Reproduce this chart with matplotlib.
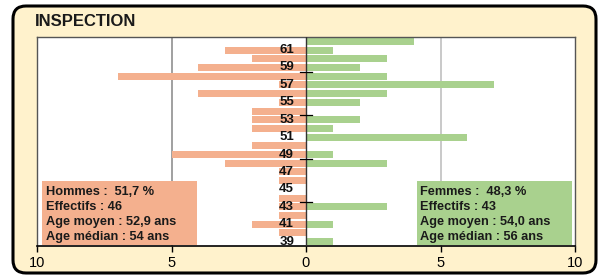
import matplotlib
matplotlib.use("Agg")
import matplotlib.pyplot as plt
from matplotlib.patches import FancyBboxPatch, Rectangle

plt.rcParams['font.family'] = ['Liberation Sans', 'DejaVu Sans']

title = "INSPECTION"
ages = list(range(39, 63))
hommes = [0, 1, 2, 1, 1, 1, 0, 1, 1, 3, 5, 2, 0, 2, 2, 2, 1, 4, 1, 7, 4, 2, 3, 0]
femmes = [1, 0, 1, 0, 3, 0, 0, 0, 0, 3, 1, 0, 6, 1, 2, 0, 2, 3, 7, 3, 2, 3, 1, 4]
age_labels = list(range(39, 62, 2))
xticks = [-10, -5, 0, 5, 10]
xtick_labels = ["10", "5", "0", "5", "10"]
sep_ticks = [43.5, 48.5, 53.5, 58.5]
hommes_text = ["Hommes :  51,7 %", "Effectifs : 46", "Age moyen : 52,9 ans", "Age médian : 54 ans"]
femmes_text = ["Femmes :  48,3 %", "Effectifs : 43", "Age moyen : 54,0 ans", "Age médian : 56 ans"]

C_H = '#F4B08E'
C_F = '#A9D18E'
BG = '#FFF2CC'

W, H = 600, 276
fig = plt.figure(figsize=(W / 100, H / 100), dpi=100, facecolor='white')

# outer rounded frame (inches coords)
frame = FancyBboxPatch((13 / 100, 3 / 100), (596 - 13) / 100, (270 - 3) / 100,
                       boxstyle="round,pad=0,rounding_size=0.13",
                       transform=fig.dpi_scale_trans, facecolor=BG,
                       edgecolor='black', linewidth=2.2, zorder=-10)
fig.patches.append(frame)

fig.text(35 / W, 1 - 22 / H, title, fontsize=12, fontweight='bold',
         ha='left', va='center', color='#1a1a1a')

ax_l, ax_r, ax_t, ax_b = 37, 575, 37, 246
ax = fig.add_axes([ax_l / W, 1 - ax_b / H, (ax_r - ax_l) / W, (ax_b - ax_t) / H])
ax.set_zorder(1)
ax.set_facecolor('white')

ax.barh(ages, [-v for v in hommes], height=0.8, color=C_H, zorder=2)
ax.barh(ages, femmes, height=0.8, color=C_F, zorder=2)

ax.set_xlim(-10, 10)
ax.set_ylim(38.5, 62.5)
ax.set_yticks([])
ax.set_xticks(xticks)
ax.set_xticklabels(xtick_labels, fontsize=10.5)
ax.tick_params(axis='x', direction='out', length=4, width=1, color='black', pad=3)

for v, c in [(-5, '#909090'), (5, '#C0C0C0')]:
    ax.axvline(v, color=c, linewidth=1.2, zorder=1)
ax.axvline(0, color='#333333', linewidth=1.0, zorder=3)
for y in sep_ticks:
    ax.plot([-0.22, 0.22], [y, y], color='black', linewidth=0.9, zorder=4)

for a in age_labels:
    ax.text(-0.72, a, str(a), ha='center', va='center', fontsize=9.5,
            fontweight='bold', color='#111111', zorder=5)

for side in ['top', 'right', 'left']:
    ax.spines[side].set_color('#555555')
    ax.spines[side].set_linewidth(1.0)
ax.spines['bottom'].set_color('black')
ax.spines['bottom'].set_linewidth(1.2)

# info boxes
def info_box(x0, x1, color, lines, tx):
    y0, y1 = 181, 245
    r = Rectangle((x0 / W, 1 - y1 / H), (x1 - x0) / W, (y1 - y0) / H,
                  transform=fig.transFigure, facecolor=color, edgecolor='none', zorder=5)
    fig.patches.append(r)
    for i, s in enumerate(lines):
        fig.text(tx / W, 1 - (191.7 + 15 * i) / H, s, fontsize=9.2, fontweight='bold',
                 ha='left', va='center', color='#1a1a1a', zorder=6)

info_box(42, 197, C_H, hommes_text, 45.5)
info_box(417, 572, C_F, femmes_text, 420.5)

fig.savefig("out.png", dpi=100, facecolor='white')
